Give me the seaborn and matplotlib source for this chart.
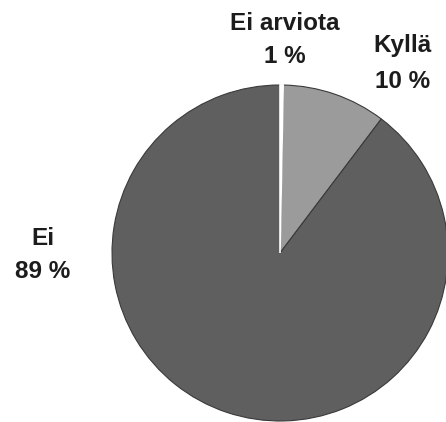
import matplotlib

matplotlib.use("Agg")
import matplotlib.pyplot as plt
import seaborn as sns

# slice order: clockwise from 12 o'clock
categories = ["Ei arviota", "Kyllä", "Ei"]
shares = [0.3, 10.0, 89.7]
pct_labels = ["1 %", "10 %", "89 %"]
colors = ["#ffffff", "#9b9b9b", "#5f5f5f"]


def main():
    sns.set_style("white")
    plt.rcParams["font.family"] = ["Liberation Sans", "DejaVu Sans"]

    fig = plt.figure(figsize=(4.46, 4.22), dpi=100)
    # pie centre at ~ (280, 253) px, radius ~168 px
    ax = fig.add_axes([112 / 446, 1 / 422, 336 / 446, 336 / 422])
    wedges, _ = ax.pie(
        shares,
        colors=colors,
        startangle=90,
        counterclock=False,
        radius=1,
        wedgeprops={"edgecolor": "#3a3a3a", "linewidth": 0.8},
    )
    for w in wedges:
        w.set_clip_on(False)
    # the tiny slice shows up only as a white line
    wedges[0].set_edgecolor("#ffffff")
    wedges[0].set_linewidth(1.2)
    wedges[0].set_zorder(3)
    ax.set_xlim(-1, 1)
    ax.set_ylim(-1, 1)
    ax.set_aspect("equal")
    ax.axis("off")

    # label positions in data units (name baseline, pct baseline)
    spots = {
        "Ei arviota": (0.03, 1.327, 1.131),
        "Kyllä": (0.732, 1.196, 0.982),
        "Ei": (-1.411, 0.048, -0.149),
    }
    for name, pct in zip(categories, pct_labels):
        x, y1, y2 = spots[name]
        for txt, y in ((name, y1), (pct, y2)):
            ax.text(x, y, txt, ha="center", va="baseline", fontsize=17.5,
                    fontweight="bold", color="#1c1c1c", clip_on=False)

    fig.savefig("out.png", dpi=100)


if __name__ == "__main__":
    main()
